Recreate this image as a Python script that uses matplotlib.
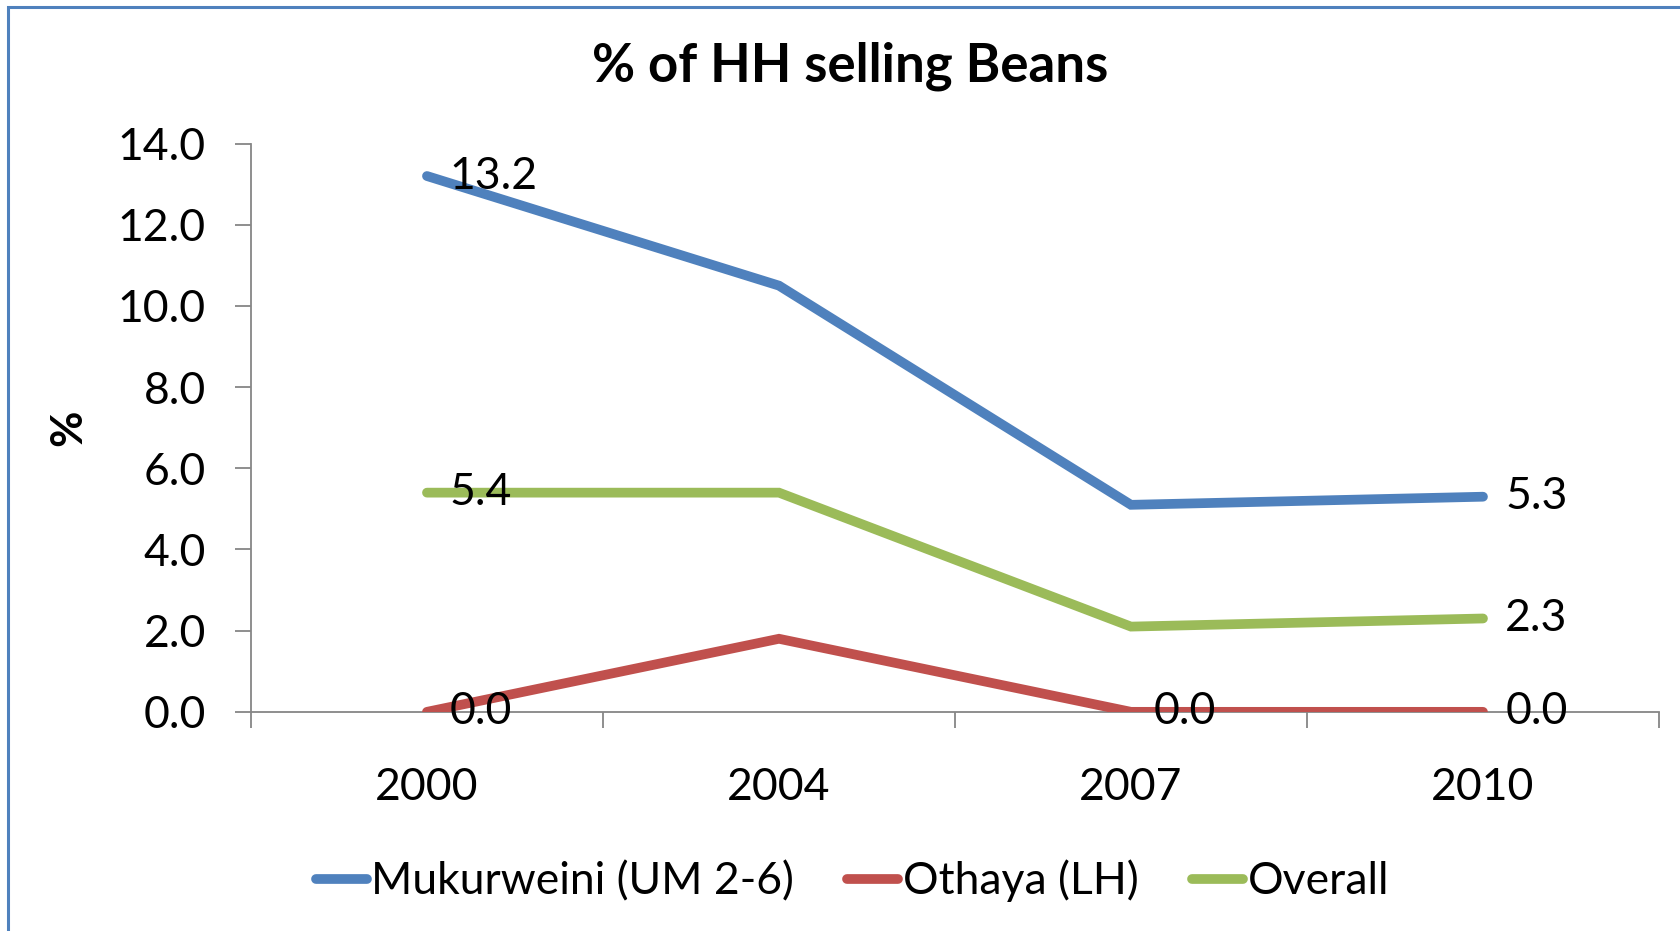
import matplotlib
matplotlib.use("Agg")
import matplotlib.pyplot as plt
from matplotlib.patches import Rectangle
from matplotlib.ticker import FixedLocator

years = ["2000", "2004", "2007", "2010"]
mukurweini = [13.2, 10.5, 5.1, 5.3]
othaya = [0.0, 1.8, 0.0, 0.0]
overall = [5.4, 5.4, 2.1, 2.3]

series = [
    ("Mukurweini (UM 2-6)", mukurweini, "#4F81BD", [0, 3]),
    ("Othaya (LH)", othaya, "#C0504D", [0, 2, 3]),
    ("Overall", overall, "#9BBB59", [0, 3]),
]

plt.rcParams["font.family"] = ["Lato", "DejaVu Sans"]
FS = 32

fig = plt.figure(figsize=(16.81, 9.31), dpi=100)
ax = fig.add_axes([0.1493, 0.2354, 0.8376, 0.6104])

x = list(range(len(years)))
for name, vals, color, labelled in series:
    ax.plot(x, vals, color=color, linewidth=7, solid_capstyle="round",
            solid_joinstyle="miter", label=name, zorder=3)
    for i in labelled:
        ax.annotate(f"{vals[i]:.1f}", (x[i], vals[i]), xytext=(16, 0),
                    textcoords="offset points", ha="left", va="center",
                    fontsize=FS, zorder=4)

ax.set_xlim(-0.5, len(years) - 0.5)
ax.set_ylim(0, 14)
ax.set_yticks([0, 2, 4, 6, 8, 10, 12, 14])
ax.set_yticklabels([f"{v:.1f}" for v in ax.get_yticks()])
ax.set_xticks(x)
ax.set_xticklabels(years)
ax.xaxis.set_minor_locator(FixedLocator([i - 0.5 for i in range(len(years) + 1)]))

axis_col = "#868686"
for side in ["top", "right"]:
    ax.spines[side].set_visible(False)
for side in ["left", "bottom"]:
    ax.spines[side].set_color(axis_col)
    ax.spines[side].set_linewidth(1.3)
ax.tick_params(axis="y", direction="out", length=11.5, width=1.3, color=axis_col,
               labelsize=FS, pad=21)
ax.tick_params(axis="x", which="major", length=0, labelsize=FS, pad=40)
ax.tick_params(axis="x", which="minor", direction="out", length=11.5, width=1.3,
               color=axis_col)

ax.set_ylabel("%", fontsize=FS, fontweight="bold", labelpad=21)
fig.text(0.5055, 0.929, "% of HH selling Beans", ha="center", va="center",
         fontsize=38, fontweight="bold")

fig.legend(loc="center", bbox_to_anchor=(0.507, 0.0537), ncol=3, frameon=False,
           fontsize=FS, handlelength=1.15, handletextpad=0.1, columnspacing=1.2)

fig.patches.append(Rectangle((8 / 1681, -0.1), 1.2, 1 - 7 / 931 + 0.1,
                             transform=fig.transFigure, fill=False,
                             edgecolor="#4F81BD", linewidth=2.2))

fig.savefig("out.png", dpi=100)
